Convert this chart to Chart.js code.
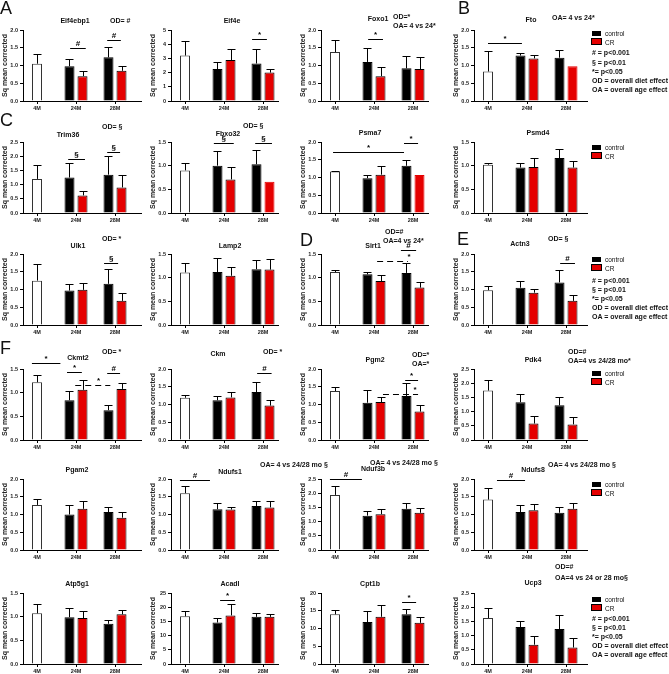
<!DOCTYPE html>
<html>
<head>
<meta charset="utf-8">
<script src="https://cdn.jsdelivr.net/npm/chart.js@4.4.1/dist/chart.umd.min.js"></script>
<style>
  body { margin: 0; background: #fff; width: 669px; height: 674px; position: relative; overflow: hidden;
         font-family: "Liberation Sans", Arial, sans-serif; color: #111; }
  .box { position: absolute; }
  .txt { position: absolute; white-space: nowrap; font-weight: bold; font-size: 7px; line-height: 7px; }
  .ttl { position: absolute; white-space: nowrap; font-weight: bold; font-size: 7px; line-height: 7px; transform: translate(-50%, -50%); }
  .letter { position: absolute; font-size: 18px; line-height: 18px; }
  .leg { position: absolute; font-size: 6.5px; line-height: 7px; white-space: nowrap; }
  .sw { position: absolute; width: 9px; height: 5px; }
  .stat { position: absolute; font-size: 7px; line-height: 7px; font-weight: bold; white-space: nowrap; }
</style>
</head>
<body>
<script>
const ageGroups = ["4M", "24M", "28M"];
const genes = ["Eif4ebp1", "Eif4e", "Foxo1", "Fto",
               "Trim36", "Fbxo32", "Psma7", "Psmd4",
               "Ulk1", "Lamp2", "Sirt1", "Actn3",
               "Ckmt2", "Ckm", "Pgm2", "Pdk4",
               "Pgam2", "Ndufs1", "Nduf3b", "Ndufs8",
               "Atp5g1", "Acadl", "Cpt1b", "Ucp3"];
const yMax  = [2, 5, 2, 2, 2.5, 1.5, 2, 1.5, 2, 1.5, 1.5, 2, 1.5, 2, 2, 2.5, 2, 2, 2.5, 2, 1.5, 25, 20, 2.5];
const yStep = [0.5, 1, 0.5, 0.5, 0.5, 0.5, 0.5, 0.5, 0.5, 0.5, 0.5, 0.5, 0.5, 0.5, 0.5, 0.5, 0.5, 0.5, 0.5, 0.5, 0.5, 5, 5, 0.5];

// 4 month old animals
const young    = [1.05, 3.2, 1.38, 0.83, 1.2, 0.9, 1.17, 1.02, 1.25, 1.11, 1.12, 0.98, 1.22, 1.19, 1.38, 1.74, 1.27, 1.6, 1.94, 1.42, 1.07, 16.8, 14.0, 1.62];
const youngErr = [0.26, 1.02, 0.35, 0.57, 0.5, 0.16, 0.02, 0.04, 0.47, 0.19, 0.05, 0.11, 0.16, 0.07, 0.11, 0.38, 0.18, 0.2, 0.33, 0.33, 0.19, 1.9, 1.3, 0.36];
// control diet, 24 and 28 months
const ctrl24    = [0.98, 2.25, 1.1, 1.28, 1.25, 1.0, 0.98, 0.96, 0.97, 1.12, 1.07, 1.05, 0.84, 1.12, 1.05, 1.33, 1.0, 1.15, 1.21, 1.07, 0.99, 14.6, 11.8, 1.3];
const ctrl24Err = [0.21, 0.5, 0.38, 0.08, 0.5, 0.32, 0.1, 0.1, 0.18, 0.3, 0.06, 0.2, 0.2, 0.13, 0.35, 0.29, 0.27, 0.18, 0.17, 0.21, 0.2, 1.6, 3.1, 0.22];
const ctrl28    = [1.23, 2.64, 0.92, 1.22, 1.35, 1.03, 1.33, 1.16, 1.16, 1.18, 1.1, 1.2, 0.63, 1.35, 1.24, 1.22, 1.07, 1.24, 1.45, 1.05, 0.85, 16.6, 14.0, 1.23];
const ctrl28Err = [0.3, 0.99, 0.35, 0.22, 0.67, 0.3, 0.17, 0.19, 0.41, 0.2, 0.21, 0.35, 0.1, 0.27, 0.36, 0.28, 0.14, 0.15, 0.2, 0.16, 0.09, 1.5, 1.5, 0.49];
// caloric restriction, 24 and 28 months
const cr24    = [0.7, 2.88, 0.7, 1.2, 0.62, 0.71, 1.08, 0.97, 0.99, 1.04, 0.93, 0.91, 1.06, 1.2, 1.07, 0.58, 1.16, 1.14, 1.26, 1.12, 0.97, 17.1, 13.3, 0.68];
const cr24Err = [0.14, 0.75, 0.26, 0.1, 0.15, 0.26, 0.24, 0.19, 0.18, 0.18, 0.12, 0.11, 0.21, 0.16, 0.13, 0.26, 0.22, 0.07, 0.19, 0.18, 0.14, 3.9, 3.3, 0.3];
const cr28    = [0.85, 2.0, 0.9, 0.98, 0.9, 0.66, 1.07, 0.96, 0.68, 1.17, 0.79, 0.68, 1.08, 0.97, 0.8, 0.55, 0.91, 1.2, 1.31, 1.16, 1.05, 16.6, 11.6, 0.58];
const cr28Err = [0.14, 0.24, 0.35, null, 0.43, null, null, 0.13, 0.22, 0.23, 0.12, 0.17, 0.12, 0.17, 0.2, 0.27, 0.16, 0.18, 0.16, 0.15, 0.1, 1.1, 1.6, 0.32];

// significance brackets (x in age-group index units, y in data units)
const sigMarks = [
  [{from: 0.85, to: 1.25, y: 1.48, label: "#"}, {from: 1.8, to: 2.15, y: 1.72, label: "#"}],
  [{from: 1.72, to: 2.1, y: 4.34, label: "*"}],
  [{from: 0.85, to: 1.23, y: 1.74, label: "*"}],
  [{from: 0, to: 0.87, y: 1.63, label: "*"}],
  [{from: 0.8, to: 1.23, y: 1.9, label: "§"}, {from: 1.8, to: 2.13, y: 2.14, label: "§"}],
  [{from: 0.74, to: 1.25, y: 1.48, label: "§"}, {from: 1.8, to: 2.23, y: 1.48, label: "§"}],
  [{from: -0.05, to: 1.77, y: 1.73, label: "*"}, {from: 1.77, to: 2.13, y: 1.97, label: "*"}],
  [],
  [{from: 1.72, to: 2.08, y: 1.75, label: "§"}],
  [],
  [{from: 1.08, to: 1.87, y: 1.35, label: "*", dash: true, at: 1.9}, {from: 1.69, to: 2.08, y: 1.59, label: "#"}],
  [{from: 1.85, to: 2.23, y: 1.75, label: "#"}],
  [{from: -0.13, to: 0.6, y: 1.63, label: "*"}, {from: 0.77, to: 1.15, y: 1.44, label: "*"},
   {from: 0.98, to: 1.88, y: 1.17, label: "*", dash: true, at: 1.58}, {from: 1.8, to: 2.13, y: 1.41, label: "#"}],
  [{from: 1.85, to: 2.22, y: 1.88, label: "#"}],
  [{from: 1.8, to: 2.13, y: 1.69, label: "*"}, {from: 1.23, to: 2.13, y: 1.29, label: "*", dash: true, at: 2.05}],
  [],
  [],
  [{from: -0.13, to: 0.64, y: 1.96, label: "#"}],
  [{from: -0.13, to: 0.69, y: 2.51, label: "#"}],
  [{from: 0.23, to: 0.95, y: 1.96, label: "#"}],
  [],
  [{from: 0.9, to: 1.28, y: 22.4, label: "*"}],
  [{from: 1.72, to: 2.08, y: 17.4, label: "*"}],
  []
];

// panel geometry
const colX = [23, 171, 321, 474];
const colW = [118, 107, 107, 113];
const rowTop = [30, 142, 254, 369, 479, 593];
const plotH = 71;
const RED = "#e50000";

const titlePos = [[75, 20], [232, 20], [378, 18], [531, 19], [68, 134], [228, 133], [370, 132], [538, 132],
                  [78, 245], [230, 245], [373, 245], [520, 243], [78, 357], [218, 353], [375, 359], [533, 359],
                  [77, 469], [230, 471], [373, 468], [533, 469], [77, 583], [230, 583], [370, 583], [533, 582]];
const notes = [
  [110, 20, "OD= #"], [393, 16, "OD=*"], [393, 25, "OA= 4 vs 24*"], [552, 17, "OA= 4 vs 24*"],
  [102, 126, "OD= §"], [243, 125, "OD= §"],
  [102, 238, "OD= *"], [385, 231, "OD=#"], [383, 240, "OA=4 vs 24*"], [548, 238, "OD= §"],
  [102, 351, "OD= *"], [263, 351, "OD= *"], [412, 354, "OD=*"], [412, 363, "OA=*"],
  [568, 351, "OD=#"], [568, 360, "OA=4 vs 24/28 mo*"],
  [260, 464, "OA= 4 vs 24/28 mo §"], [370, 462, "OA= 4 vs 24/28 mo §"], [548, 464, "OA= 4 vs 24/28 mo §"],
  [555, 566, "OD=#"], [555, 577, "OA=4 vs 24 or 28 mo§"]
];
const letters = [["A", 0, -1], ["B", 458, -1], ["C", 0, 111], ["D", 300, 231], ["E", 457, 230], ["F", 0, 339]];
const legendY = [33, 147, 259, 373, 484, 599];
const statLines = ["# = p<0.001", "§ = p<0.01", "*= p<0.05", "OD = overall diet effect", "OA = overall age effect"];
const statY = {0: [52, 62, 71, 80, 89], 2: [280, 289, 298, 307, 316], 5: [618, 627, 636, 645, 654]};

function addDiv(cls, text, x, y, center) {
  const d = document.createElement("div");
  d.className = cls;
  d.textContent = text;
  d.style.left = x + "px";
  d.style.top = y + "px";
  if (!center && cls !== "letter") d.style.transform = "translateY(-50%)";
  document.body.appendChild(d);
  return d;
}

const errBars = {
  id: "errBars",
  afterDatasetsDraw(chart) {
    const ctx = chart.ctx, ys = chart.scales.y;
    chart.data.datasets.forEach((ds, di) => {
      chart.getDatasetMeta(di).data.forEach((bar, k) => {
        const v = ds.data[k], e = ds.errors[k];
        if (v == null || e == null) return;
        const top = Math.round(ys.getPixelForValue(v + e)) + 0.5;
        const x = Math.round(bar.x) + 0.5;
        ctx.save();
        ctx.strokeStyle = "#000";
        ctx.lineWidth = 1;
        ctx.beginPath();
        ctx.moveTo(x, bar.y);
        ctx.lineTo(x, top);
        ctx.moveTo(x - 4, top);
        ctx.lineTo(x + 4, top);
        ctx.stroke();
        ctx.restore();
      });
    });
  }
};

// one bracket plugin per chart, marks captured directly (not through the options resolver)
function sigPlugin(marks) {
  return {
    id: "sigLines",
    afterDraw(chart) {
      const ctx = chart.ctx, xs = chart.scales.x, ys = chart.scales.y;
      marks.forEach(m => {
        const x0 = xs.getPixelForValue(m.from), x1 = xs.getPixelForValue(m.to);
        const y = Math.round(ys.getPixelForValue(m.y)) + 0.5;
        ctx.save();
        ctx.strokeStyle = "#000";
        ctx.lineWidth = 1;
        ctx.setLineDash(m.dash ? [6, 4] : []);
        ctx.beginPath();
        ctx.moveTo(x0, y);
        ctx.lineTo(x1, y);
        ctx.stroke();
        ctx.setLineDash([]);
        ctx.fillStyle = "#000";
        ctx.font = "bold 8px 'Liberation Sans', Arial, sans-serif";
        ctx.textAlign = "center";
        ctx.textBaseline = "bottom";
        const lx = typeof m.at === "number" ? xs.getPixelForValue(m.at) : (x0 + x1) / 2;
        ctx.fillText(m.label, lx, y - 1);
        ctx.restore();
      });
    }
  };
}

Chart.defaults.font.family = "'Liberation Sans', Arial, sans-serif";
Chart.defaults.color = "#222";

genes.forEach((g, i) => {
  const col = i % 4, row = Math.floor(i / 4);
  const w = colW[col];
  const box = document.createElement("div");
  box.className = "box";
  box.style.left = (colX[col] - 22) + "px";
  box.style.top = (rowTop[row] - 30) + "px";
  box.style.width = (22 + w + 6) + "px";
  box.style.height = (30 + plotH + 12) + "px";
  const cv = document.createElement("canvas");
  box.appendChild(cv);
  document.body.appendChild(box);

  new Chart(cv, {
    type: "bar",
    data: {
      labels: [0, 1, 2],
      datasets: [
        {label: "4M", data: [young[i], null, null], errors: [youngErr[i], null, null],
         backgroundColor: "#fff", borderColor: "#333", borderWidth: 1},
        {label: "control", data: [null, ctrl24[i], ctrl28[i]], errors: [null, ctrl24Err[i], ctrl28Err[i]],
         backgroundColor: "#000", borderColor: "#000", borderWidth: 1},
        {label: "CR", data: [null, cr24[i], cr28[i]], errors: [null, cr24Err[i], cr28Err[i]],
         backgroundColor: RED, borderColor: ["#000", cr24Err[i] == null ? RED : "#000", cr28Err[i] == null ? RED : "#000"],
         borderWidth: 1}
      ]
    },
    options: {
      animation: false,
      responsive: true,
      maintainAspectRatio: false,
      layout: {padding: {top: 30, left: 0, right: 6, bottom: 0}},
      datasets: {bar: {skipNull: true, categoryPercentage: 0.667, barPercentage: 0.77, maxBarThickness: 10}},
      plugins: {legend: {display: false}, tooltip: {enabled: false}},
      scales: {
        x: {
          type: "linear", min: -14 / 39, max: (w - 14) / 39, offset: false,
          afterBuildTicks: s => { s.ticks = ageGroups.map((_, k) => ({value: k})); },
          afterFit: s => { s.height = 12; },
          ticks: {callback: v => ageGroups[v], font: {size: 5.5, weight: "bold"}, padding: 1, autoSkip: false, maxRotation: 0},
          grid: {drawOnChartArea: false, tickLength: 3, color: "#000", offset: false},
          border: {color: "#000", width: 1}
        },
        y: {
          min: 0, max: yMax[i],
          afterFit: s => { s.width = 22; },
          ticks: {stepSize: yStep[i], callback: v => yStep[i] < 1 ? v.toFixed(1) : v,
                  font: {size: 5.5, weight: "bold"}, padding: 2},
          title: {display: true, text: "Sq mean corrected", font: {size: 7, weight: "bold"}, padding: 0},
          grid: {drawOnChartArea: false, tickLength: 3, color: "#000"},
          border: {color: "#000", width: 1}
        }
      }
    },
    plugins: [errBars, sigPlugin(sigMarks[i])]
  });

  addDiv("ttl", g, titlePos[i][0], titlePos[i][1], true);
});

notes.forEach(n => addDiv("txt", n[2], n[0], n[1]));
letters.forEach(l => addDiv("letter", l[0], l[1], l[2], true));

legendY.forEach((y, r) => {
  const a = addDiv("sw", "", 592, y - 2.5, true); a.style.background = "#000";
  addDiv("leg", "control", 605, y);
  const b = addDiv("sw", "", 592, y + 6, true); b.style.background = RED; b.style.outline = "0.5px solid #000";
  addDiv("leg", "CR", 605, y + 8.5);
  if (statY[r]) statLines.forEach((s, k) => addDiv("stat", s, 592, statY[r][k]));
});
</script>
</body>
</html>
